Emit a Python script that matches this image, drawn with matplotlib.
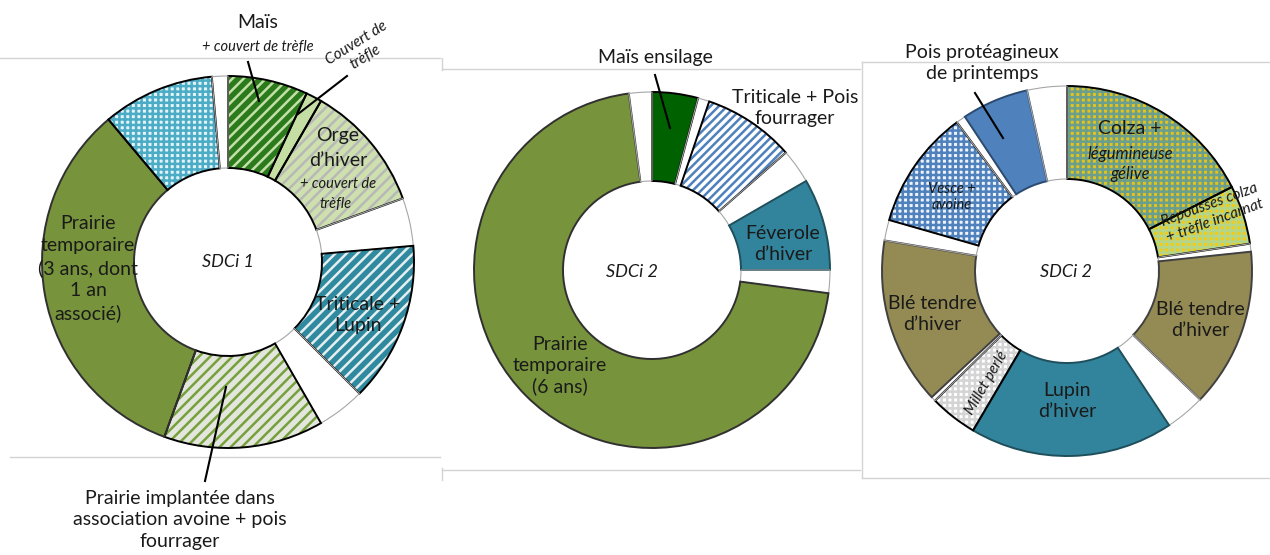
import matplotlib.pyplot as plt

plt.rcParams['font.family'] = ['Lato', 'DejaVu Sans']
plt.rcParams['hatch.linewidth'] = 1.8

sdc1_parts = ["Maïs", "Couvert de trèfle", "Orge d'hiver", "", "Triticale + Lupin", "",
              "Prairie implantée", "Prairie temporaire", "Mélange fourrager", ""]
sdc1_values = [5, 1, 8, 3, 10, 3, 10, 24, 7, 1]

sdc2_parts = ["Maïs ensilage", "", "Triticale + Pois fourrager", "", "Féverole d'hiver", "",
              "Prairie temporaire", ""]
sdc2_values = [4, 1, 8, 3, 8, 2, 68, 2]

sdc3_parts = ["Colza + légumineuse gélive", "Repousses colza + trèfle incarnat", "",
              "Blé tendre d'hiver", "", "Lupin d'hiver", "Millet perlé", "",
              "Blé tendre d'hiver", "", "Vesce + avoine", "", "Pois protéagineux", ""]
sdc3_values = [12.6, 3.7, 0.5, 10, 2.5, 12.8, 3, 0.3, 10.5, 1.3, 7.5, 0.6, 4.2, 2.5]

# face, hachure, couleur de hachure, contour
styles = {
    "": ("white", None, None, "#a6a6a6"),
    "Maïs": ("#2b7a1c", "///", "#c3e0a8", "black"),
    "Couvert de trèfle": ("#c4dea4", None, None, "black"),
    "Orge d'hiver": ("#cde0ad", "///", "#b8b8b8", "black"),
    "Triticale + Lupin": ("#2f8aa0", "///", "#e6eef0", "black"),
    "Prairie implantée": ("#e2e6dc", "///", "#77a03d", "black"),
    "Prairie temporaire": ("#77933c", None, None, "#303030"),
    "Mélange fourrager": ("#e4f3f7", "+++", "#4bacc6", "black"),
    "Maïs ensilage": ("#006100", None, None, "black"),
    "Triticale + Pois fourrager": ("white", "////", "#4f81bd", "black"),
    "Féverole d'hiver": ("#31849b", None, None, "#1f4f5c"),
    "Colza + légumineuse gélive": ("#e3c21c", "+++", "#6a9f8e", "black"),
    "Repousses colza + trèfle incarnat": ("#f3cb16", "+++", "#b3d68a", "black"),
    "Blé tendre d'hiver": ("#948a54", None, None, "#404040"),
    "Lupin d'hiver": ("#31849b", None, None, "#1f4f5c"),
    "Millet perlé": ("white", "+++", "#d4d4d4", "black"),
    "Vesce + avoine": ("#eef3fa", "+++", "#4f81bd", "black"),
    "Pois protéagineux": ("#4f81bd", None, None, "#2a4a70"),
}


def donut(ax, parts, values, center, r_out, r_in):
    faces = [styles[p][0] for p in parts]
    wedges, _ = ax.pie(values, colors=faces, center=center, radius=r_out,
                       startangle=-90, counterclock=True,
                       wedgeprops=dict(width=r_out - r_in, linewidth=0))
    for w, p in zip(wedges, parts):
        face, hatch, hcol, edge = styles[p]
        if hatch:
            w.set_hatch(hatch)
            w.set_edgecolor(hcol)
            w.set_linewidth(0)
    outlines, _ = ax.pie(values, center=center, radius=r_out,
                         startangle=-90, counterclock=True,
                         wedgeprops=dict(width=r_out - r_in, fill=False))
    for w, p in zip(outlines, parts):
        edge = styles[p][3]
        w.set_edgecolor(edge)
        w.set_linewidth(0.8 if p == "" else 1.4)


fig = plt.figure(figsize=(12.7, 5.55), dpi=100)
ax = fig.add_axes([0, 0, 1, 1])

# cadres gris des trois images
frame_col = "#d3d3d3"
ax.plot([0, 440], [58, 58], color=frame_col, lw=1)
ax.plot([10, 440], [457, 457], color=frame_col, lw=1)
ax.plot([442, 860], [69, 69], color=frame_col, lw=1)
ax.plot([442, 860], [470, 470], color=frame_col, lw=1)
ax.plot([442, 442], [58, 70], color=frame_col, lw=1)
ax.plot([442, 442], [468, 480], color=frame_col, lw=1)
ax.plot([862, 1270], [62, 62], color=frame_col, lw=1)
ax.plot([862, 1270], [478, 478], color=frame_col, lw=1)
ax.plot([862, 862], [62, 478], color=frame_col, lw=1)

donut(ax, sdc1_parts, sdc1_values, (228, 262), 186, 94)
donut(ax, sdc2_parts, sdc2_values, (652, 270), 178, 89)
donut(ax, sdc3_parts, sdc3_values, (1067, 271), 185, 92)

txt = "#1a1a1a"
big = 14
small = 10.5


def label(x, y, s, size=big, style='normal', rot=0, ls=1.25):
    ax.text(x, y, s, fontsize=size, style=style, rotation=rot, color=txt,
            ha='center', va='center', linespacing=ls)


# SDCi 1
label(258, 22, "Maïs")
label(258, 47, "+ couvert de trèfle", small, 'italic')
label(361, 50, "Couvert de\ntrèfle", 11, 'italic', rot=32)
label(338, 136, "Orge")
label(338, 161, "d’hiver")
label(338, 184, "+ couvert de", small, 'italic')
label(336, 204, "trèfle", small, 'italic')
label(88, 269, "Prairie\ntemporaire\n(3 ans, dont\n1 an\nassocié)", ls=1.35)
label(228, 262, "SDCi 1", 13, 'italic')
label(358, 315, "Triticale +\nLupin")
label(180, 520, "Prairie implantée dans\nassociation avoine + pois\nfourrager", ls=1.35)
ax.plot([248, 259], [62, 101], color='black', lw=1.5)
ax.plot([347, 298], [76, 114], color='black', lw=1.5)
ax.plot([226, 205], [387, 481], color='black', lw=1.5)

# SDCi 2
label(655, 57, "Maïs ensilage")
label(795, 108, "Triticale + Pois\nfourrager")
label(783, 244, "Féverole\nd’hiver")
label(560, 366, "Prairie\ntemporaire\n(6 ans)")
label(632, 272, "SDCi 2", 13, 'italic')
ax.plot([655, 670], [75, 128], color='black', lw=1.5)

# SDCi 3
label(982, 63, "Pois protéagineux\nde printemps")
label(1130, 128, "Colza +")
label(1130, 164, "légumineuse\ngélive", 12, 'italic')
label(1212, 213, "Repousses colza\n+ trèfle incarnat", 11, 'italic', rot=20)
label(952, 197, "Vesce +\navoine", small, 'italic')
label(1066, 272, "SDCi 2", 13, 'italic')
label(932, 314, "Blé tendre\nd’hiver")
label(1200, 320, "Blé tendre\nd’hiver")
label(1067, 401, "Lupin\nd’hiver")
label(987, 383, "Millet perlé", 11, 'italic', rot=60)
ax.plot([975, 1003], [93, 138], color='black', lw=1.5)

ax.set_xlim(0, 1270)
ax.set_ylim(555, 0)
ax.axis('off')

fig.savefig("out.png", dpi=100)
